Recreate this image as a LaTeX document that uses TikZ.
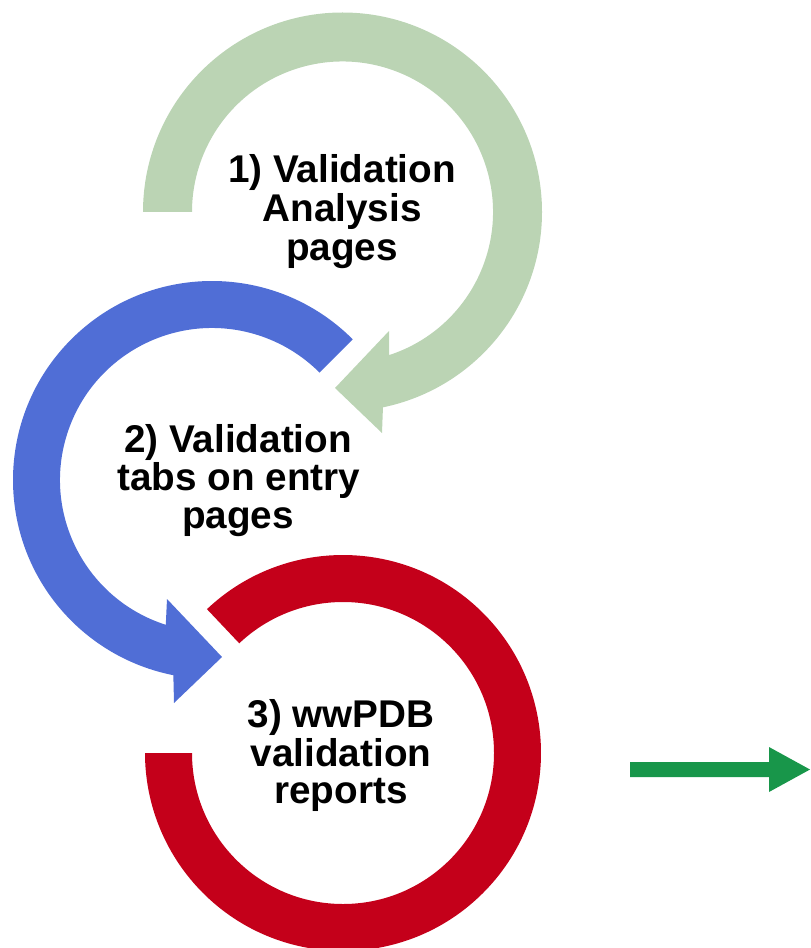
\documentclass[tikz,border=0pt]{standalone}
\usepackage{fontspec}
\setmainfont{Liberation Sans}
\definecolor{gring}{RGB}{187,212,180}
\definecolor{bring}{RGB}{80,110,214}
\definecolor{rring}{RGB}{196,0,26}
\definecolor{garrow}{RGB}{24,150,74}
\begin{document}
\begin{tikzpicture}[x=0.75pt,y=-0.75pt,
  lbl/.style={anchor=base,inner sep=0pt,font=\bfseries\fontsize{29}{30}\selectfont}]
\useasboundingbox (0,0) rectangle (810,948);
\coordinate (G) at (342.5,212);
\coordinate (B) at (212,480);
\coordinate (R) at (343,753);
% green circular arrow
\fill[gring] ([shift={(180:199.5)}]G) arc[start angle=180,end angle=438.3,radius=199.5]
  -- (382,433) -- (335,388) -- (389,331)
  -- ([shift={(432:150.5)}]G) arc[start angle=432,end angle=180,radius=150.5] -- cycle;
% blue circular arrow
\fill[bring] ([shift={(315:199)}]B) arc[start angle=315,end angle=101.2,radius=199]
  -- (174,703) -- (222,657) -- (167,599)
  -- ([shift={(107.7:152)}]B) arc[start angle=107.7,end angle=315,radius=152] -- cycle;
% red ring
\fill[rring] ([shift={(226.6:198)}]R) arc[start angle=226.6,end angle=540,radius=198]
  -- ([shift={(540:151)}]R) arc[start angle=540,end angle=226.6,radius=151] -- cycle;
% right arrow
\fill[garrow] (630,762) -- (769,762) -- (769,747) -- (810,769.5) -- (769,792) -- (769,777) -- (630,777) -- cycle;
% labels
\node[lbl] (t1a) at (342,183) {1) Validation};
\node[lbl] (t1b) at (342,222) {Analysis};
\node[lbl] (t1c) at (342,261) {pages};
\node[lbl] (t2a) at (238,452) {2) Validation};
\node[lbl] (t2b) at (239,490) {tabs on entry};
\node[lbl] (t2c) at (238,528) {pages};
\node[lbl] (t3a) at (341,727) {3) wwPDB};
\node[lbl] (t3b) at (341,766) {validation};
\node[lbl] (t3c) at (341,803) {reports};
\end{tikzpicture}
\end{document}
